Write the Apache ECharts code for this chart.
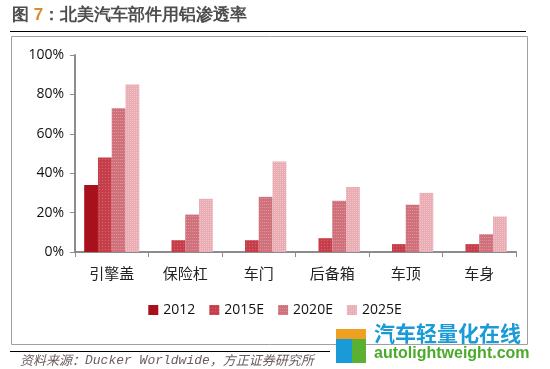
<!DOCTYPE html>
<html><head><meta charset="utf-8">
<script src="https://cdn.jsdelivr.net/npm/echarts@6/dist/echarts.min.js"></script>
<style>html,body{margin:0;padding:0;background:#fff}#c{width:550px;height:369px}</style>
</head><body><div id="c"></div>
<script>
var categories = ['引擎盖','保险杠','车门','后备箱','车顶','车身'];
var seriesNames = ['2012','2015E','2020E','2025E'];
var s2012 = [34, 0, 0, 0, 0, 0];
var s2015 = [48, 6, 6, 7, 4, 4];
var s2020 = [73, 19, 28, 26, 24, 9];
var s2025 = [85, 27, 46, 33, 30, 18];
var yTicks = [0, 20, 40, 60, 80, 100];

var colors = ['#a8101c', '#c63e4a', '#d0707a', '#e9acb3'];
var decals = [
  null,
  {symbol:'rect', symbolSize:1, color:'rgba(255,255,255,0.22)', dashArrayX:[1,2], dashArrayY:[1,2], rotation:0},
  {symbol:'rect', symbolSize:1, color:'rgba(255,255,255,0.25)', dashArrayX:[1,1], dashArrayY:[1,2], rotation:0},
  {symbol:'rect', symbolSize:1, color:'rgba(255,255,255,0.3)', dashArrayX:[1,1], dashArrayY:[1,1], rotation:0}
];
var data = [s2012, s2015, s2020, s2025];
var chart = echarts.init(document.getElementById('c'));
var series = seriesNames.map(function(n, i){
  var st = {color: colors[i]};
  if (decals[i]) st.decal = decals[i];
  return {name:n, type:'bar', data:data[i], barGap:'0%', barCategoryGap:'25%', itemStyle:st};
});
chart.setOption({
  animation:false,
  textStyle:{fontFamily:'"Noto Sans CJK SC", sans-serif'},
  grid:{left:75, right:34, top:55, bottom:117},
  legend:{data:seriesNames, top:298, left:'center', itemWidth:10, itemHeight:10, itemGap:14,
    textStyle:{fontSize:14, color:'#111', fontFamily:'"Open Sans", sans-serif'}, icon:'rect'},
  xAxis:{type:'category', data:categories,
    axisLine:{lineStyle:{color:'#8c8c8c', width:2}},
    axisTick:{show:true, length:5, lineStyle:{color:'#8c8c8c'}},
    axisLabel:{fontSize:15, color:'#222', margin:14}},
  yAxis:{type:'value', min:0, max:100, interval:20,
    axisLine:{show:true, lineStyle:{color:'#8c8c8c', width:2}},
    axisTick:{show:true, length:5, inside:false, lineStyle:{color:'#8c8c8c'}},
    splitLine:{show:false},
    axisLabel:{fontSize:14, color:'#111', margin:11, fontFamily:'"Open Sans", sans-serif',
      formatter:function(v){return v+'%';}}},
  series:series,
  graphic:[
    {type:'text', left:12, top:7, style:{rich:{a:{fill:'#4d4d4d',fontSize:17,fontWeight:'bold'},b:{fill:'#d98a2a',fontSize:17,fontWeight:'bold'}}, text:'{a|图 }{b|7}{a|：北美汽车部件用铝渗透率}', fontFamily:'"Noto Sans CJK SC"'}},
    {type:'rect', shape:{x:10, y:31, width:516, height:1}, style:{fill:'#000'}},
    {type:'rect', z:-1, shape:{x:11.5, y:36.5, width:516, height:308}, style:{fill:'none', stroke:'#a0a0a0', lineWidth:1}},
    {type:'rect', shape:{x:10, y:351, width:320, height:1}, style:{fill:'#000'}},
    {type:'text', left:20, top:354, style:{rich:{c:{fill:'#6b5d5d', fontSize:13, fontStyle:'italic', fontFamily:'"Noto Sans CJK SC"'}, m:{fill:'#6b5d5d', fontSize:13, fontStyle:'italic', fontFamily:'"Liberation Mono"'}}, text:'{c|资料来源：}{m|Ducker Worldwide}{c|，方正证券研究所}'}},
    {type:'text', left:374, top:323, style:{text:'汽车轻量化在线', fill:'#1a9ad6', fontSize:21, fontWeight:'bold', fontFamily:'"Noto Sans CJK SC"'}},
    {type:'text', left:374, top:346, style:{text:'autolightweight.com', fill:'#4aab2a', fontSize:16, fontWeight:'bold', fontFamily:'"Liberation Sans"'}},
    {type:'rect', shape:{x:336, y:329, width:30, height:34}, style:{fill:'#1a9ad6'}},
    {type:'rect', shape:{x:336, y:329, width:30, height:10}, style:{fill:'#f0a020'}},
    {type:'rect', shape:{x:352, y:339, width:14, height:24}, style:{fill:'#5ab030'}}
  ]
});
</script></body></html>
